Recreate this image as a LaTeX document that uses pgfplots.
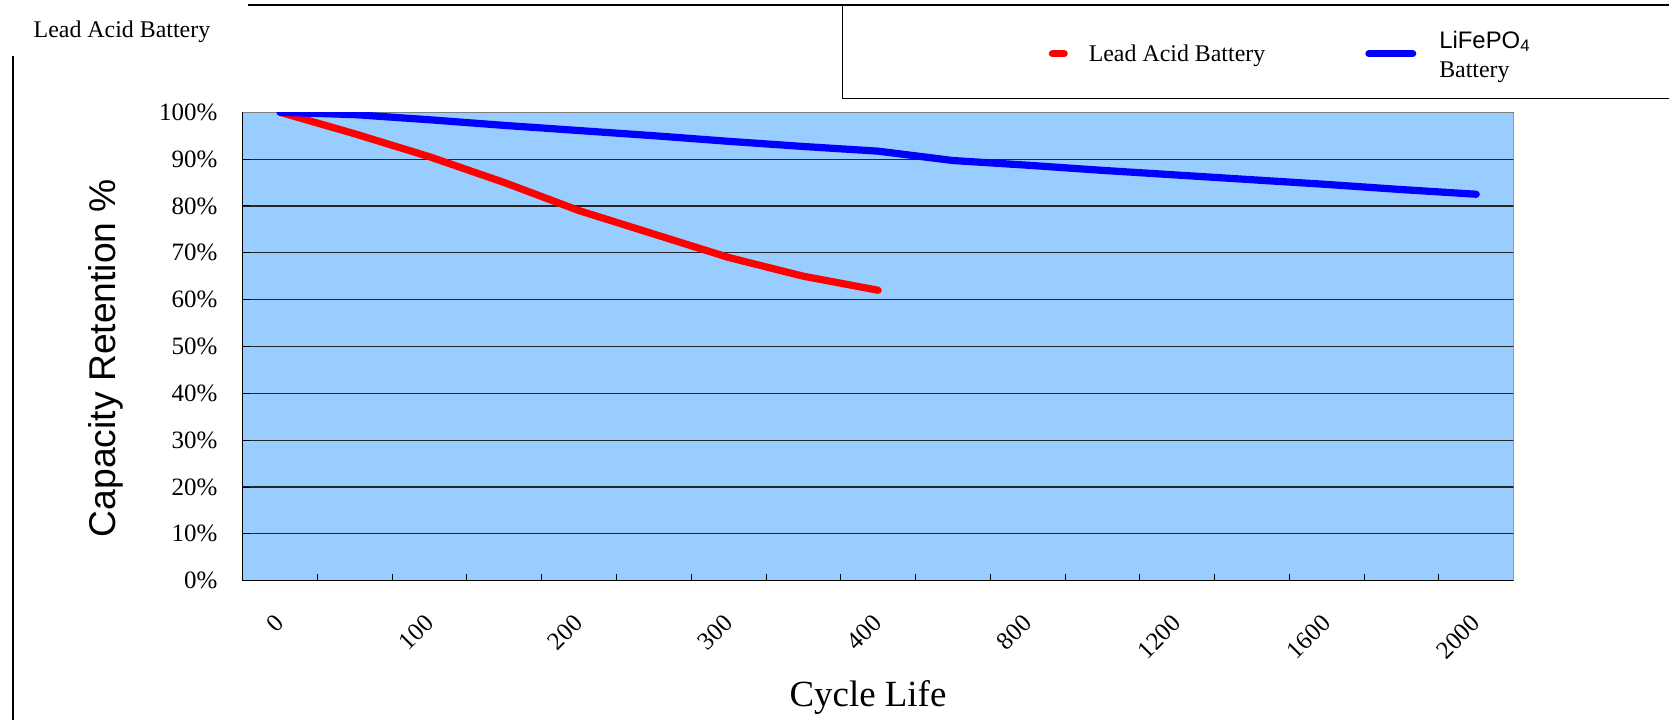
\documentclass[border=0pt]{standalone}
\usepackage{fontspec}
\setmainfont{Liberation Serif}
\setsansfont{Liberation Sans}
\usepackage{pgfplots}
\pgfplotsset{compat=1.18}
\definecolor{bgblue}{HTML}{99CCFF}
\definecolor{framegray}{HTML}{808080}

\begin{document}
\begin{tikzpicture}
\path[use as bounding box] (0,0) rectangle (166.9mm,72mm);
\draw[line width=0.2mm] (24.8mm,71.53mm) -- (170mm,71.53mm);
\draw[line width=0.1mm] (170mm,62.1mm) -- (84.2mm,62.1mm) -- (84.2mm,71.5mm);
\draw[line width=0.15mm] (1.3mm,0) -- (1.3mm,66.4mm);
\node[anchor=base west, inner sep=0pt, font=\fontsize{6.8}{8}\selectfont] at (3.3mm,68.2mm) {Lead Acid Battery};

\begin{axis}[
  at={(24.27mm,13.93mm)}, anchor=south west,
  scale only axis, width=127.09mm, height=46.84mm,
  xmin=-0.5, xmax=16.5, ymin=0, ymax=100,
  axis x line*=bottom, axis y line*=left,
  axis line style={line width=0.15mm, black},
  axis background/.style={fill=bgblue},
  xtick={0,2,...,16},
  xticklabels={0,100,200,300,400,800,1200,1600,2000},
  minor xtick={0.5,1.5,...,15.5},
  major x tick style={draw=none},
  minor tick length=0.7mm,
  major tick length=0.7mm,
  tick align=inside,
  tick style={black, line width=0.1mm},
  xticklabel style={rotate=45, anchor=east, inner sep=0pt},
  xticklabel shift=3.8mm,
  ytick={0,10,...,100},
  yticklabels={0\%,10\%,20\%,30\%,40\%,50\%,60\%,70\%,80\%,90\%,100\%},
  yticklabel style={inner sep=0pt, xshift=-2.47mm},
  tick label style={font=\fontsize{7.1}{8.5}\selectfont},
  ymajorgrids,
  grid style={black!85, line width=0.11mm},
  xlabel={Cycle Life},
  xlabel style={at={(axis description cs:0.492,-0.25)}, anchor=center, font=\fontsize{10.5}{12}\selectfont},
  ylabel={Capacity Retention \%},
  ylabel style={at={(axis description cs:-0.1076,0.4755)}, anchor=center, font=\sffamily\fontsize{10.6}{12}\selectfont},
  legend columns=2,
  legend style={at={(axis description cs:0.6337,1.1250)}, anchor=west, draw=none, fill=none,
    inner sep=0pt, font=\fontsize{6.8}{7.37}\selectfont, nodes={inner sep=0pt},
    /tikz/every even column/.append style={column sep=10.0mm}},
]
\draw[framegray, line width=0.2mm] (rel axis cs:0,1) -- (rel axis cs:1,1) -- (rel axis cs:1,0);

\addplot[red, line width=0.72mm, line cap=round, line join=round,
  legend image code/.code={\path[draw=none] (0,0) -- (4mm,0); \draw[line cap=round, line width=0.72mm] (0.36mm,0) -- (1.54mm,0);}]
  coordinates {(0,100) (1,95.4) (2,90.5) (3,85) (4,79) (5,74) (6,69) (7,65) (8,62)};
\addlegendentry{\raisebox{-0.35mm}{Lead Acid Battery}}

\addplot[blue, line width=0.72mm, line cap=round, line join=round,
  legend image code/.code={\path[draw=none] (0,0) -- (7.4mm,0); \draw[line cap=round, line width=0.72mm] (0.36mm,0) -- (4.74mm,0);}]
  coordinates {(0,100) (1,99.5) (2,98.4) (3,97.2) (4,96.1) (5,95) (6,93.8) (7,92.7) (8,91.7) (9,89.7) (10,88.7) (11,87.6) (12,86.6) (13,85.6) (14,84.6) (15,83.5) (16,82.5)};
\addlegendentry{\raisebox{0.85mm}{\begin{tabular}{@{}l@{}}\sffamily LiFePO\textsubscript{4}\\[0.9pt]Battery\end{tabular}}}
\end{axis}
\end{tikzpicture}
\end{document}
